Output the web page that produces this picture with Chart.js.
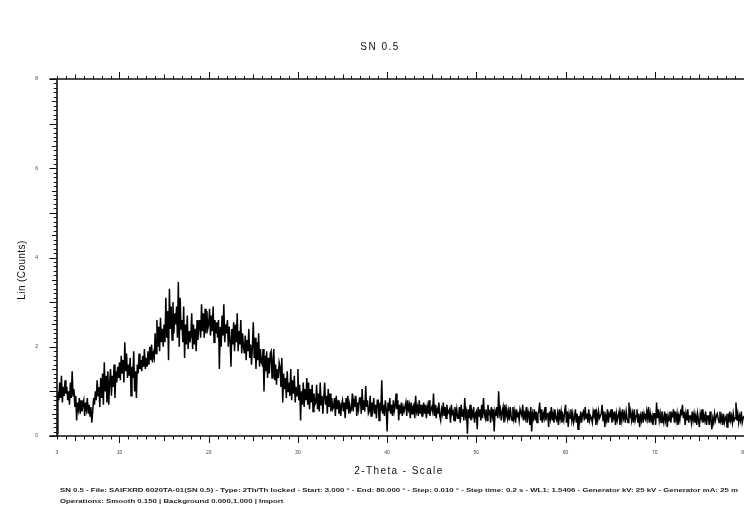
<!DOCTYPE html>
<html>
<head>
<meta charset="utf-8">
<script src="https://cdn.jsdelivr.net/npm/chart.js@4.4.1/dist/chart.umd.min.js"></script>
<style>
  html, body { margin: 0; padding: 0; background: #fff; }
  #xrd { display: block; }
</style>
</head>
<body>
<canvas id="xrd" width="744" height="508"></canvas>
<script>
const chartTitle = "SN 0.5";
const yTitle = "Lin (Counts)";
const xTitle = "2-Theta - Scale";
const footerLines = [
  "SN 0.5 - File: SAIFXRD 6020TA-01(SN 0.5) - Type: 2Th/Th locked - Start: 3.000 \u00b0 - End: 80.000 \u00b0 - Step: 0.010 \u00b0 - Step time: 0.2 s - WL1: 1.5406 - Generator kV: 25 kV - Generator mA: 25 m",
  "Operations: Smooth 0.150 | Background 0.000,1.000 | Import"
];

const xTickLabels = [3, 10, 20, 30, 40, 50, 60, 70, 80];
const yTickLabels = [0, 2, 4, 6, 8];

// scan grid (2-theta, degrees), one count value per step; one row = one degree
const scanStart = 3;
const scanStep = 0.1;
const counts = [
  0.05, 1.0, 0.8, 1.2, 0.85, 1.35, 0.75, 1.1, 0.9, 1.25,
  0.95, 1.1, 0.8, 1.0, 0.7, 1.2, 0.85, 1.45, 0.9, 1.05,
  0.65, 0.9, 0.35, 0.75, 0.6, 0.85, 0.5, 0.8, 0.55, 0.7,
  0.8, 0.45, 0.75, 0.6, 0.85, 0.5, 0.7, 0.45, 0.65, 0.3,
  0.55, 0.85, 0.7, 1.0, 0.8, 1.25, 0.9, 1.1, 0.65, 1.3,
  0.85, 1.4, 0.7, 1.65, 1.0, 1.35, 0.75, 1.45, 0.7, 1.2,
  1.5, 0.9, 1.35, 1.1, 1.6, 0.85, 1.45, 1.2, 1.55, 1.3,
  1.65, 1.25, 1.8, 1.4, 1.7, 1.2, 2.1, 1.45, 1.85, 1.3,
  1.6, 1.35, 1.75, 0.9, 1.55, 1.3, 1.9, 1.0, 1.45, 0.85,
  1.6, 1.4, 1.85, 1.5, 1.7, 1.45, 1.8, 1.55, 1.95, 1.5,
  1.75, 1.55, 1.9, 1.6, 2.0, 1.7, 2.05, 1.65, 1.85, 1.75,
  2.3, 1.85, 2.6, 2.0, 2.45, 1.9, 2.65, 2.1, 2.4, 2.0,
  2.5, 2.1, 3.1, 2.2, 2.8, 1.7, 3.3, 2.4, 2.9, 2.15,
  3.0, 2.3, 2.75, 2.5, 2.9, 2.2, 3.45, 2.0, 3.1, 2.4,
  2.6, 2.1, 2.9, 1.75, 2.5, 2.05, 2.7, 1.95, 2.35, 2.1,
  2.25, 2.75, 1.95, 2.5, 2.05, 2.4, 1.9, 2.6, 2.15, 2.45,
  2.6, 2.2, 2.95, 2.35, 2.75, 2.2, 2.85, 2.3, 2.8, 2.4,
  2.5, 2.85, 2.25, 2.7, 2.35, 2.9, 2.1, 2.6, 2.3, 2.55,
  2.2, 2.6, 1.5, 2.45, 2.0, 2.7, 2.25, 2.95, 2.1, 2.5,
  2.3, 2.6, 2.0, 2.45, 2.15, 1.55, 2.4, 2.05, 2.55, 1.9,
  2.5, 2.1, 2.75, 1.9, 2.35, 2.05, 2.6, 1.85, 2.3, 2.0,
  1.85, 2.25, 1.7, 2.15, 1.9, 2.4, 1.75, 2.05, 1.6, 2.0,
  2.55, 1.75, 2.2, 1.5, 2.1, 1.7, 2.3, 1.55, 1.95, 1.65,
  1.6, 1.95, 1.0, 1.8, 1.45, 1.9, 1.3, 1.75, 1.4, 1.85,
  1.9, 1.3, 1.7, 1.95, 1.25, 1.6, 1.15, 1.5, 1.3, 1.65,
  1.55, 1.1, 1.75, 0.75, 1.4, 1.05, 1.3, 0.85, 1.45, 1.0,
  1.2, 0.9, 1.5, 0.8, 1.25, 0.95, 1.35, 0.75, 1.1, 0.9,
  1.5, 0.8, 1.15, 0.35, 1.0, 0.7, 1.2, 0.65, 1.05, 0.8,
  1.3, 0.7, 1.2, 0.6, 1.05, 0.75, 1.15, 0.55, 0.95, 0.7,
  0.75, 1.15, 0.6, 0.95, 0.55, 1.2, 0.7, 0.9, 0.5, 0.85,
  1.2, 0.7, 0.9, 0.5, 1.05, 0.65, 0.95, 0.55, 0.85, 0.6,
  0.65, 0.85, 0.45, 0.9, 0.6, 0.8, 0.5, 0.75, 0.45, 0.7,
  0.8, 0.55, 0.75, 0.4, 0.85, 0.6, 0.9, 0.5, 0.7, 0.55,
  0.6, 0.95, 0.55, 0.8, 0.65, 0.9, 0.45, 0.75, 0.6, 0.85,
  0.85, 0.5, 1.05, 0.6, 0.8, 0.55, 1.12, 0.65, 0.8, 0.5,
  0.55, 0.9, 0.45, 0.75, 0.6, 0.85, 0.5, 0.7, 0.4, 0.8,
  0.8, 0.35, 0.75, 0.55, 1.25, 0.5, 0.7, 0.45, 0.8, 0.6,
  0.1, 0.75, 0.55, 0.85, 0.5, 0.7, 0.45, 0.8, 0.55, 0.65,
  0.95, 0.6, 0.8, 0.35, 0.7, 0.5, 0.75, 0.45, 0.65, 0.55,
  0.55, 0.75, 0.45, 0.8, 0.6, 0.7, 0.4, 0.75, 0.5, 0.65,
  0.7, 0.4, 0.9, 0.55, 0.65, 0.45, 0.8, 0.5, 0.7, 0.45,
  0.45, 0.75, 0.5, 0.7, 0.4, 0.65, 0.5, 0.8, 0.45, 0.6,
  0.65, 0.55, 0.95, 0.45, 0.7, 0.4, 0.6, 0.5, 0.75, 0.45,
  0.35, 0.6, 0.5, 0.75, 0.45, 0.65, 0.4, 0.7, 0.5, 0.55,
  0.6, 0.3, 0.7, 0.5, 0.55, 0.35, 0.65, 0.45, 0.6, 0.4,
  0.4, 0.65, 0.3, 0.7, 0.45, 0.6, 0.35, 0.85, 0.45, 0.55,
  0.05, 0.6, 0.4, 0.7, 0.35, 0.55, 0.45, 0.65, 0.3, 0.5,
  0.55, 0.15, 0.65, 0.45, 0.6, 0.35, 0.7, 0.4, 0.85, 0.5,
  0.4, 0.6, 0.35, 0.7, 0.5, 0.55, 0.3, 0.65, 0.45, 0.6,
  0.1, 0.55, 0.45, 0.65, 0.4, 1.0, 0.5, 0.6, 0.35, 0.55,
  0.65, 0.3, 0.7, 0.45, 0.6, 0.4, 0.55, 0.35, 0.65, 0.45,
  0.35, 0.65, 0.4, 0.55, 0.3, 0.6, 0.45, 0.5, 0.35, 0.6,
  0.6, 0.45, 0.7, 0.35, 0.5, 0.4, 0.65, 0.3, 0.55, 0.45,
  0.25, 0.65, 0.1, 0.5, 0.4, 0.6, 0.35, 0.55, 0.3, 0.5,
  0.55, 0.75, 0.35, 0.6, 0.3, 0.5, 0.4, 0.65, 0.35, 0.5,
  0.5, 0.2, 0.55, 0.4, 0.65, 0.35, 0.5, 0.3, 0.6, 0.4,
  0.35, 0.5, 0.25, 0.6, 0.4, 0.55, 0.3, 0.45, 0.35, 0.55,
  0.7, 0.3, 0.55, 0.2, 0.5, 0.4, 0.6, 0.35, 0.5, 0.3,
  0.4, 0.6, 0.3, 0.5, 0.15, 0.45, 0.35, 0.55, 0.3, 0.5,
  0.55, 0.35, 0.65, 0.4, 0.5, 0.3, 0.6, 0.35, 0.45, 0.4,
  0.3, 0.55, 0.45, 0.6, 0.25, 0.5, 0.35, 0.55, 0.4, 0.45,
  0.5, 0.7, 0.35, 0.55, 0.2, 0.45, 0.35, 0.6, 0.3, 0.5,
  0.45, 0.6, 0.3, 0.5, 0.4, 0.55, 0.25, 0.5, 0.35, 0.45,
  0.55, 0.25, 0.5, 0.35, 0.6, 0.4, 0.5, 0.3, 0.55, 0.4,
  0.3, 0.75, 0.4, 0.55, 0.35, 0.5, 0.3, 0.6, 0.35, 0.45,
  0.6, 0.3, 0.5, 0.2, 0.45, 0.35, 0.55, 0.3, 0.5, 0.4,
  0.35, 0.55, 0.4, 0.65, 0.3, 0.5, 0.35, 0.45, 0.25, 0.5,
  0.5, 0.25, 0.75, 0.4, 0.6, 0.35, 0.5, 0.3, 0.55, 0.4,
  0.3, 0.55, 0.35, 0.5, 0.2, 0.45, 0.35, 0.55, 0.3, 0.5,
  0.45, 0.6, 0.3, 0.55, 0.35, 0.5, 0.25, 0.45, 0.35, 0.55,
  0.5, 0.7, 0.4, 0.55, 0.25, 0.5, 0.35, 0.6, 0.3, 0.45,
  0.45, 0.3, 0.55, 0.35, 0.5, 0.3, 0.45, 0.25, 0.5, 0.35,
  0.2, 0.5, 0.4, 0.6, 0.3, 0.45, 0.35, 0.55, 0.25, 0.45,
  0.45, 0.25, 0.55, 0.35, 0.15, 0.4, 0.3, 0.5, 0.35, 0.45,
  0.5, 0.4, 0.3, 0.55, 0.35, 0.45, 0.25, 0.5, 0.3, 0.4,
  0.45, 0.2, 0.5, 0.3, 0.55, 0.35, 0.45, 0.3, 0.5, 0.35,
  0.4, 0.75, 0.35, 0.5, 0.3, 0.45, 0.35, 0.55, 0.3, 0.4,
  0.45
];

const points = counts.map((c, i) => ({ x: +(scanStart + i * scanStep).toFixed(2), y: c }));

// axes, ticks and all the text drawn around the plot area
const frame = {
  id: "frame",
  afterDraw(chart) {
    const { ctx, chartArea: a } = chart;
    const xs = chart.scales.x, ys = chart.scales.y;
    ctx.save();
    ctx.strokeStyle = "#111";
    ctx.fillStyle = "#444";

    // x ticks, every degree, both bottom and top
    ctx.lineWidth = 1;
    for (let v = 3; v <= 80; v++) {
      const px = Math.round(xs.getPixelForValue(v)) + 0.5;
      const lb = v % 10 === 0 ? 7 : v % 5 === 0 ? 5 : 3.5;
      const lt = v % 10 === 0 ? 7 : v % 5 === 0 ? 4.5 : 3;
      ctx.beginPath();
      ctx.moveTo(px, a.bottom); ctx.lineTo(px, a.bottom + lb);
      ctx.moveTo(px, a.top); ctx.lineTo(px, a.top - lt);
      ctx.stroke();
    }
    // y ticks, every 0.1
    for (let i = 0; i <= 80; i++) {
      const py = Math.round(ys.getPixelForValue(i / 10)) + 0.5;
      const l = i % 10 === 0 ? 7.5 : i % 5 === 0 ? 5 : 3.3;
      ctx.beginPath();
      ctx.moveTo(a.left, py); ctx.lineTo(a.left - l, py);
      ctx.stroke();
    }

    // frame lines
    ctx.lineWidth = 1.6;
    ctx.beginPath();
    ctx.moveTo(a.left, a.top); ctx.lineTo(a.left, a.bottom);
    ctx.moveTo(a.left - 7.5, a.bottom); ctx.lineTo(a.right + 2, a.bottom);
    ctx.moveTo(a.left - 7.5, a.top); ctx.lineTo(a.right + 2, a.top);
    ctx.stroke();

    // tick labels
    ctx.font = "5px 'Liberation Sans', Arial, sans-serif";
    ctx.textAlign = "center";
    ctx.textBaseline = "middle";
    xTickLabels.forEach(v => ctx.fillText(String(v), xs.getPixelForValue(v), a.bottom + 17));
    ctx.textAlign = "right";
    yTickLabels.forEach(v => ctx.fillText(String(v), a.left - 19, ys.getPixelForValue(v)));

    // titles
    ctx.fillStyle = "#111";
    ctx.font = "10px 'Liberation Sans', Arial, sans-serif";
    ctx.letterSpacing = "1.5px";
    ctx.textAlign = "center";
    ctx.fillText(chartTitle, 380, 47);
    ctx.letterSpacing = "1.4px";
    ctx.fillText(xTitle, 399, 471);
    ctx.letterSpacing = "0.4px";
    ctx.save();
    ctx.translate(22, 270);
    ctx.rotate(-Math.PI / 2);
    ctx.fillText(yTitle, 0, 0);
    ctx.restore();

    // footer
    ctx.letterSpacing = "0px";
    ctx.textAlign = "left";
    ctx.fillStyle = "#222";
    ctx.font = "bold 5.6px 'Liberation Sans', Arial, sans-serif";
    const w = ctx.measureText(footerLines[0]).width;
    const k = 678 / w;
    ctx.save();
    ctx.translate(60, 490);
    ctx.scale(k, 1);
    ctx.fillText(footerLines[0], 0, 0);
    ctx.restore();
    ctx.save();
    ctx.translate(60, 501);
    ctx.scale(k, 1);
    ctx.fillText(footerLines[1], 0, 0);
    ctx.restore();
    ctx.restore();
  }
};

new Chart(document.getElementById("xrd"), {
  type: "line",
  data: {
    datasets: [{
      data: points,
      borderColor: "#000",
      borderWidth: 1.5,
      pointRadius: 0,
      tension: 0,
      fill: false
    }]
  },
  options: {
    responsive: false,
    animation: false,
    devicePixelRatio: 1,
    layout: { padding: { left: 57, top: 79, right: -4, bottom: 72 } },
    scales: {
      x: { type: "linear", min: 3, max: 80, display: false },
      y: { min: 0, max: 8, display: false }
    },
    plugins: {
      legend: { display: false },
      tooltip: { enabled: false },
      title: { display: false }
    }
  },
  plugins: [frame]
});
</script>
</body>
</html>
